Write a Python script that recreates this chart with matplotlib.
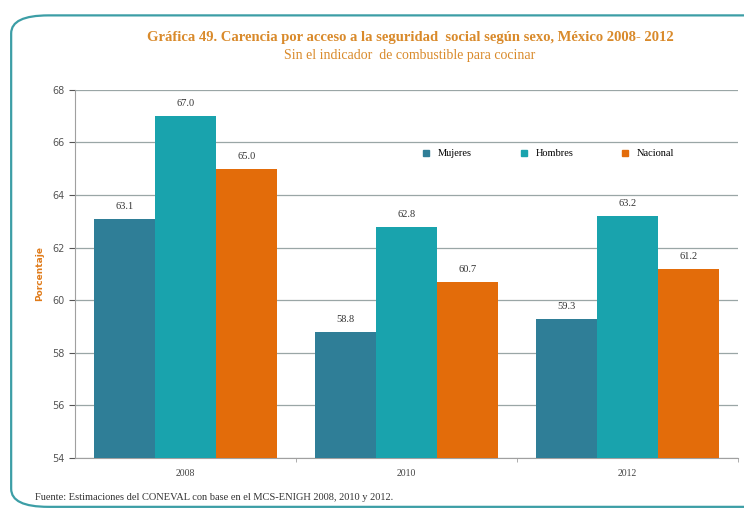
import numpy as np
import matplotlib
matplotlib.use("Agg")
import matplotlib.pyplot as plt
from matplotlib.patches import FancyBboxPatch
from matplotlib.lines import Line2D

# ======================
# DATA
# ======================
years = ["2008", "2010", "2012"]
series_names = ["Mujeres", "Hombres", "Nacional"]
mujeres = [63.1, 58.8, 59.3]
hombres = [67.0, 62.8, 63.2]
nacional = [65.0, 60.7, 61.2]
y_ticks = [54, 56, 58, 60, 62, 64, 66, 68]

colors = ["#2F7E97", "#19A3AD", "#E36C0A"]
title_color = "#D98A2B"

# ======================
# FIGURE
# ======================
fig = plt.figure(figsize=(7.44, 5.13), dpi=100)

# rounded frame around the chart
frame = FancyBboxPatch((0.015, 0.012), 1.2, 0.958, boxstyle="round,pad=0,rounding_size=0.05",
                       transform=fig.transFigure, facecolor="none",
                       edgecolor="#3C9EA6", linewidth=1.6, zorder=-1, mutation_aspect=0.7)
fig.patches.append(frame)

ax = fig.add_axes([0.101, 0.107, 0.891, 0.718])
ax.set_facecolor("none")

x = np.arange(len(years))
width = 0.277
for i, (vals, name) in enumerate(zip([mujeres, hombres, nacional], series_names)):
    pos = x + (i - 1) * width
    ax.bar(pos, [v - 54 for v in vals], width, bottom=54, color=colors[i], label=name, zorder=3)
    for p, v in zip(pos, vals):
        ax.text(p, v + 0.3, f"{v:.1f}", ha="center", va="bottom", fontsize=7.5,
                family="Liberation Serif", color="#333333")

ax.set_ylim(54, 68)
ax.set_xlim(-0.5, 2.5)
ax.set_yticks(y_ticks)
ax.set_xticks(x)
ax.set_xticklabels(years, fontsize=7, family="Liberation Serif", color="#444444")
ax.tick_params(axis="y", labelsize=7, colors="#555555", length=4, width=0.8)
ax.tick_params(axis="x", length=0, pad=8)
ax.yaxis.grid(True, color="#9AA6A6", linewidth=0.9, zorder=0)
ax.set_axisbelow(True)
for side in ["top", "right"]:
    ax.spines[side].set_visible(False)
ax.spines["left"].set_color("#A0A0A0")
ax.spines["bottom"].set_color("#A0A0A0")
ax.set_xticks([0.5, 1.5, 2.5], minor=True)
ax.tick_params(axis="x", which="minor", length=3, color="#A0A0A0")

ax.set_ylabel("Porcentaje", fontsize=6.5, color="#E07B1A", fontweight="bold", labelpad=6)

handles = [Line2D([0], [0], marker="s", linestyle="none", markersize=4,
                  markerfacecolor=c, markeredgecolor=c) for c in colors]
leg = ax.legend(handles, series_names, loc="upper left", bbox_to_anchor=(0.5, 0.865),
                ncol=3, frameon=False, handletextpad=0.1, columnspacing=4.0,
                prop={"family": "Liberation Serif", "size": 7.5})

fig.text(0.551, 0.926, "Gráfica 49. Carencia por acceso a la seguridad  social según sexo, México 2008- 2012",
         ha="center", va="center", fontsize=10.5, fontweight="bold", family="Liberation Serif",
         color=title_color)
fig.text(0.551, 0.891, "Sin el indicador  de combustible para cocinar",
         ha="center", va="center", fontsize=10, family="Liberation Serif", color=title_color)
fig.text(0.047, 0.025, "Fuente: Estimaciones del CONEVAL con base en el MCS-ENIGH 2008, 2010 y 2012.",
         ha="left", fontsize=7.5, family="Liberation Serif", color="#333333")

fig.savefig("out.png", dpi=100)
